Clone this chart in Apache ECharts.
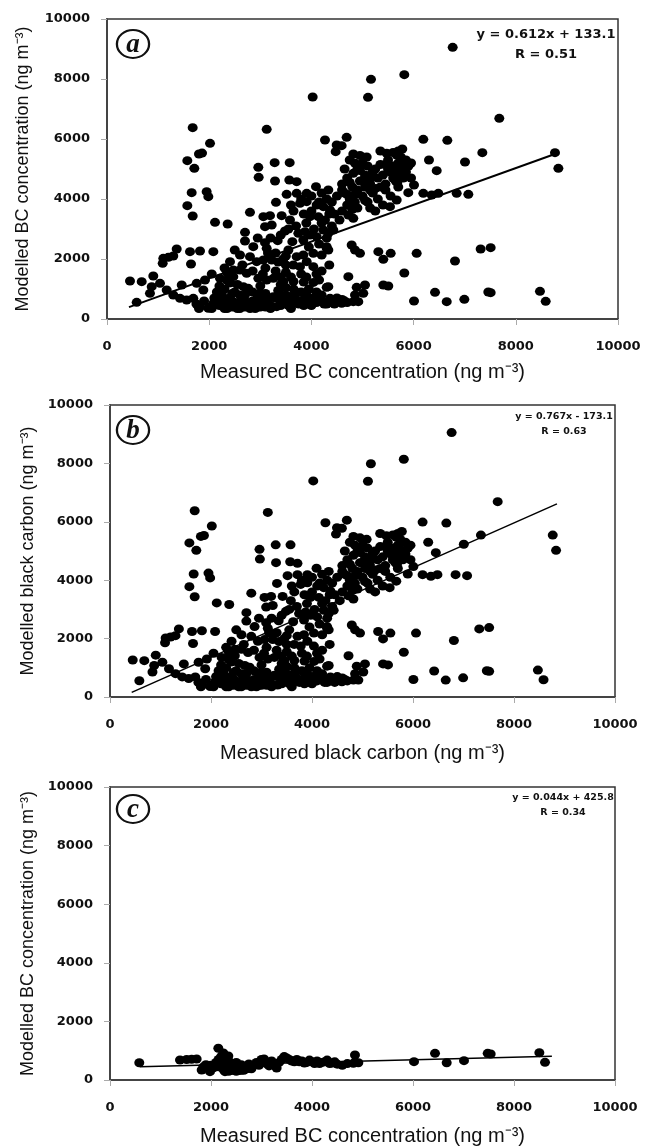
<!DOCTYPE html>
<html>
<head>
<meta charset="utf-8">
<script src="https://cdn.jsdelivr.net/npm/echarts@6/dist/echarts.min.js"></script>
<style>
  html, body { margin: 0; padding: 0; background: #fff; }
  #main { width: 653px; height: 1147px; }
</style>
</head>
<body>
<div id="main"></div>
<script>
// --- data (ng m-3) ---
// panels a and b show the same measured/modelled pairs
const pointsAB = [
  [450,1267],[679,1244],[581,556],[906,1433],[875,1078],[841,856],[1037,1189],[1102,2022],[1200,2056],[1297,2100],
  [1090,1856],[1364,2333],[1168,967],[1297,800],[1429,689],[1462,1133],[1559,633],[1689,689],[1572,3778],[1657,4211],
  [1677,3433],[1624,2244],[1644,1833],[1820,2267],[2081,2244],[2114,3222],[2361,3167],[1950,4244],[1983,4078],[1755,1189],
  [1918,1300],[1885,967],[1820,411],[1983,356],[2081,522],
  [1677,6377],[2016,5856],[1572,5277],[1800,5500],[1860,5530],[1709,5022],
  [3125,6322],[4025,7400],[4266,5967],[2961,5056],[2968,4722],[3281,5211],[3575,5211],[3288,4600],[3568,4633],[3712,4578],
  [3516,4156],[3712,4189],[3908,4189],[4090,4411],[4331,4300],[3307,3889],[2798,3556],[2701,2889],[3060,3411],[3190,3444],
  [3092,3078],[3223,3133],[3418,3444],[3581,3300],[3483,2933],[3340,2611],[3627,2578],[3092,2544],[3125,2356],[2863,2411],
  [2798,2078],[2603,2133],[2472,1633],[2407,1911],[2211,1356],[2342,1300],[2472,1411],[2603,1633],[2733,1522],[2668,1078],
  [2765,1022],[2929,1911],[3060,1967],[3223,1967],[2961,1356],[3125,1300],[3255,1356],[2994,856],[3255,744],[3320,411],
  [3646,1800],[3777,1744],[3908,1911],[4038,1744],[3450,1250],[3650,1250],[3850,1230],[4040,1220],[3712,2078],[3842,2133],
  [4038,2189],[3842,2633],[3973,2800],[4103,2744],[4233,2967],[3744,2856],[3875,2911],[3777,3856],[3908,3911],[4103,3800],
  [4233,3744],[4364,3633],[3973,3411],[4135,3411],[4266,3300],[4299,2356],[4331,1078],
  [3450,650],[3580,600],[3780,560],[3970,600],[4170,600],[4364,560],
  [6765,9056],[5166,7989],[5818,8144],[5108,7389],[7677,6689],[4690,6056],[4495,5800],[4592,5778],[4475,5578],[6190,5989],
  [6660,5956],[7345,5545],[8767,5545],[8833,5022],[7006,5233],[6301,5300],[6452,4944],[6843,4189],[7071,4156],[6190,4189],
  [6354,4133],[6484,4189],[5896,4211],[6008,4467],[5681,4544],[5779,5667],[5473,5522],[5669,5467],[4820,5500],[4951,5450],
  [5082,5400],[4820,4856],[5016,4633],[5147,4522],[5538,3744],[5669,3967],[4820,3356],[4723,3467],[4429,2967],[4331,2856],
  [4299,2411],[4331,2300],[4201,2133],[4788,2467],[4853,2300],[4951,2189],[5310,2244],[5552,2189],[5407,1989],[6060,2189],
  [7312,2333],[7508,2378],[6810,1933],[5818,1533],[4723,1411],[4299,1056],[5407,1133],[5505,1100],[4886,1056],[5049,1133],
  [4853,800],[5016,856],[4820,578],[4918,578],[4233,578],[4364,689],[4495,578],[4592,522],[6008,600],[6419,889],
  [6648,578],[6993,656],[7462,900],[7508,878],[8473,922],[8585,589],
  [4650,4200],[4750,4000],[4850,3900],[4900,4300],[5000,4100],[5100,3900],[5200,4200],[5300,4000],[5350,4400],[5450,4300],
  [5550,4100],[5600,4700],[5700,4800],[5800,5000],[5900,5100],[5700,5200],[5500,5000],[5400,4800],[5300,4700],[5200,4900],
  [5100,5100],[5000,5200],[4900,5000],[4700,4700],[4600,4500],[4800,4400],[5500,5300],[5600,5100],[5750,5400],[5850,5300],
  [5950,5200],[4700,3800],[4900,3700],[5250,3600],[5400,3800],[4500,4100],[4400,3900],[4600,3600],[4550,3300],[4450,3500],
  [4750,5300],[4850,5200],[4950,4950],[5050,4800],[5150,4700],[5250,5000],[5350,5150],[5450,5150],[5550,4900],[5650,5000],
  [5750,5050],[5850,4900],[5950,4700],[4650,5000],[4750,4550],[4950,4600],[5050,4400],[5150,4300],[5250,4350],[5450,4500],
  [5650,4600],[5800,4700],[5700,4400],[4600,4300],[4700,4150],[4850,4150],[5050,3950],[4800,3650],[5150,3700],[5700,5600],
  [5600,5550],[5350,5600],
  [1750,500],[1900,600],[2000,400],[2100,700],[2200,450],[2250,600],[2300,350],[2350,500],[2400,700],[2450,400],
  [2500,550],[2550,350],[2600,450],[2650,650],[2700,400],[2750,500],[2800,350],[2850,600],[2900,450],[2950,400],
  [3000,650],[3050,500],[3100,850],[3150,600],[3200,450],[3300,700],[3400,550],[3500,800],[3550,450],[3650,600],
  [3700,900],[3750,500],[3850,650],[3900,500],[4000,700],[4100,550],[4150,650],[4250,500],[4400,600],[4500,700],
  [4650,600],[2150,900],[2300,1000],[2500,900],[2700,800],[2850,900],[3350,950],[3500,1050],[3650,1000],[3800,900],
  [2200,1100],[2400,1200],[2550,1150],[3000,1100],[3400,1150],[3600,1400],[3300,1600],[3100,1700],[2850,1600],[3500,1550],
  [3800,1500],[4100,1500],[4150,1300],[3950,1000],[4100,900],
  [1800,350],[2050,350],[2150,500],[2350,350],[2450,600],[2600,350],[2700,600],[2900,350],[3000,400],[3100,400],
  [3200,350],[3400,450],[3600,350],[3700,650],[3850,450],[4000,450],[4050,550],[4300,500],[4450,500],[4600,650],
  [4700,550],[2250,800],[2450,850],[2600,800],[2950,750],[3150,700],[3400,800],[3600,750],[3900,800],[4200,800],
  [3300,2200],[3450,2000],[3550,2300],[3200,2700],[3400,2800],[3550,3000],[3700,3100],[3900,3200],[4050,3000],[4200,3200],
  [4350,3500],[4400,3100],[3650,3600],[3850,3500],[4000,3600],[4150,3900],[4300,4000],[3600,3800],[3800,4000],[4000,4100],
  [4200,4200],[3350,1900],[3500,1800],[2500,2300],[2700,2600],[2950,2700],[3150,2200],[3500,2100],[3950,2400],[4150,2500],
  [4300,2700],[2350,1550],[2650,1800],[3050,1500],[3400,1400],[3900,1400],[4200,1600],[4350,1800],[2300,1700],[2050,1500]
];

const pointsC = [
  [580,590],[1386,683],[1518,700],[1617,710],[1716,717],[1815,341],[1980,284],[2145,1082],[2244,920],[2343,819],
  [2277,284],[1850,450],[1900,520],[2000,500],[2050,420],[2100,600],[2150,700],[2200,800],[2250,550],[2300,450],
  [2350,650],[2400,380],[2450,500],[2500,600],[2550,400],[2600,520],[2650,450],[2700,380],[2750,550],[2800,470],
  [2850,500],[2900,600],[3000,700],[3050,720],[3100,560],[3200,650],[3300,410],[3350,600],[3400,700],[3450,800],
  [3500,750],[3550,700],[3600,650],[3650,620],[3700,700],[3800,650],[3850,580],[3900,600],[3950,680],[4000,620],
  [4100,650],[4150,560],[4200,600],[4300,680],[4350,560],[4450,620],[4500,540],[4600,500],[4818,569],[4851,853],
  [4917,590],[6020,625],[6436,910],[6667,590],[7010,660],[7479,910],[7538,887],[8502,933],[8614,603],[2500,300],
  [2400,320],[2600,330],[2800,380],
  [2150,450],[2250,350],[2350,300],[2550,320],[2650,330],[2750,400],[2950,500],[3150,480],[3250,520],[3750,620],
  [4050,560],[4250,620],[4400,580],[4700,560],[2200,650],[2300,580]
];

// fitted lines, end points as drawn
const fitA = [[430, 396], [8780, 5507]];
const fitB = [[430, 157], [8850, 6615]];
const fitC = [[590, 452], [8750, 811]];

const panelLetters = ['a', 'b', 'c'];
const fitEquations = ['y = 0.612x + 133.1', 'y = 0.767x - 173.1', 'y = 0.044x + 425.8'];
const fitR = ['R = 0.51', 'R = 0.63', 'R = 0.34'];
const xNames = ['Measured BC concentration (ng m\u207B\u00B3)', 'Measured black carbon (ng m\u207B\u00B3)', 'Measured BC concentration (ng m\u207B\u00B3)'];
const yNames = ['Modelled BC concentration (ng m\u207B\u00B3)', 'Modelled black carbon (ng m\u207B\u00B3)', 'Modelled BC concentration (ng m\u207B\u00B3)'];

// --- layout (px) ---
const grids = [
  { left: 107, top: 19, width: 511, height: 300 },
  { left: 110, top: 405, width: 505, height: 292 },
  { left: 110, top: 787, width: 505, height: 293 }
];
const eqStyle = [
  { x: 546, y1: 35, y2: 55, size: 13 },
  { x: 564, y1: 417, y2: 432, size: 9.5 },
  { x: 563, y1: 798, y2: 813, size: 9.5 }
];
const letterY = [44, 430, 809];

const labelFont = { color: '#111', fontWeight: 'bold', fontSize: 13, fontFamily: 'DejaVu Sans', formatter: v => String(v) };
const dot = { symbolSize: [10, 9], itemStyle: { color: '#000', opacity: 1 } };

const chart = echarts.init(document.getElementById('main'));

const option = {
  backgroundColor: '#fff',
  animation: false,
  grid: grids.map(g => Object.assign({ show: true, borderColor: '#333', borderWidth: 1.5, backgroundColor: 'transparent' }, g)),
  xAxis: grids.map((g, i) => ({
    gridIndex: i,
    type: 'value',
    min: 0, max: 10000, interval: 2000,
    name: xNames[i],
    nameLocation: 'middle',
    nameGap: i === 0 ? 43 : 46,
    nameTextStyle: { fontSize: 20, fontFamily: 'Liberation Sans', color: '#111' },
    axisLine: { show: true, lineStyle: { color: '#444', width: 2 } },
    axisTick: { show: true, length: 6, lineStyle: { color: '#aaa' } },
    axisLabel: Object.assign({ margin: 21 }, labelFont),
    splitLine: { show: false }
  })),
  yAxis: grids.map((g, i) => ({
    gridIndex: i,
    type: 'value',
    min: 0, max: 10000, interval: 2000,
    name: yNames[i],
    nameLocation: 'middle',
    nameGap: i === 0 ? 75 : 73,
    nameTextStyle: { fontSize: 18, fontFamily: 'Liberation Sans', color: '#111' },
    axisLine: { show: true, lineStyle: { color: '#444', width: 2 } },
    axisTick: { show: true, length: 6, lineStyle: { color: '#aaa' } },
    axisLabel: Object.assign({ margin: 17 }, labelFont),
    splitLine: { show: false }
  })),
  series: [
    Object.assign({ type: 'scatter', xAxisIndex: 0, yAxisIndex: 0, data: pointsAB }, dot),
    { type: 'line', xAxisIndex: 0, yAxisIndex: 0, data: fitA, symbol: 'none', z: 3, lineStyle: { color: '#000', width: 2 } },
    Object.assign({ type: 'scatter', xAxisIndex: 1, yAxisIndex: 1, data: pointsAB }, dot),
    { type: 'line', xAxisIndex: 1, yAxisIndex: 1, data: fitB, symbol: 'none', z: 3, lineStyle: { color: '#000', width: 1.5 } },
    Object.assign({ type: 'scatter', xAxisIndex: 2, yAxisIndex: 2, data: pointsC }, dot),
    { type: 'line', xAxisIndex: 2, yAxisIndex: 2, data: fitC, symbol: 'none', z: 3, lineStyle: { color: '#000', width: 1.5 } }
  ],
  graphic: []
};

// panel letters and fit text
panelLetters.forEach((letter, i) => {
  option.graphic.push({
    type: 'circle', x: 133, y: letterY[i], scaleX: 1.15, z: 10,
    shape: { cx: 0, cy: 0, r: 14 },
    style: { fill: '#fff', stroke: '#111', lineWidth: 2 }
  });
  option.graphic.push({
    type: 'text', x: 133, y: letterY[i] + 1, z: 11,
    style: {
      text: letter, font: 'italic bold 27px "Liberation Serif"', fill: '#111',
      textAlign: 'center', textVerticalAlign: 'middle', align: 'center', verticalAlign: 'middle'
    }
  });
  const e = eqStyle[i];
  [[fitEquations[i], e.y1], [fitR[i], e.y2]].forEach(([txt, y]) => {
    option.graphic.push({
      type: 'text', x: e.x, y: y, z: 11,
      style: {
        text: txt, font: 'bold ' + e.size + 'px "DejaVu Sans"', fill: '#111',
        textAlign: 'center', textVerticalAlign: 'middle', align: 'center', verticalAlign: 'middle'
      }
    });
  });
});

chart.setOption(option);
</script>
</body>
</html>
